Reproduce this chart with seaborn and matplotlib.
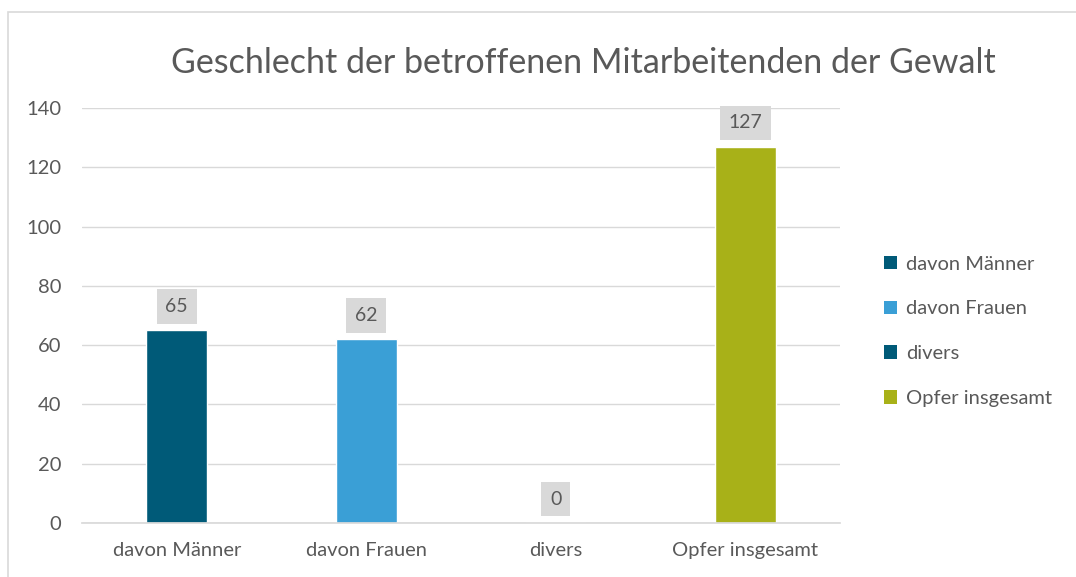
import pandas as pd
import matplotlib.pyplot as plt
import seaborn as sns
from matplotlib.patches import Rectangle, Patch

categories = ['davon Männer', 'davon Frauen', 'divers', 'Opfer insgesamt']
values = [65, 62, 0, 127]
colors = ['#005A78', '#3A9FD6', '#005A78', '#A8B118']
title = 'Geschlecht der betroffenen Mitarbeitenden der Gewalt'

sns.set_theme(style='white')
plt.rcParams['font.family'] = ['Lato', 'DejaVu Sans']
text_color = '#595959'

df = pd.DataFrame({'kategorie': categories, 'anzahl': values})

fig = plt.figure(figsize=(10.76, 5.77), dpi=100)
ax = fig.add_axes([0.0762, 0.0936, 0.7045, 0.7192])
sns.barplot(data=df, x='kategorie', y='anzahl', hue='kategorie', palette=colors,
            width=0.32, dodge=False, legend=False, ax=ax, saturation=1)

ax.set_ylim(0, 140)
ax.set_yticks(range(0, 141, 20))
ax.yaxis.grid(True, color='#D9D9D9', linewidth=1)
ax.set_axisbelow(True)
sns.despine(ax=ax, left=True, bottom=False, top=True, right=True)
ax.spines['bottom'].set_color('#D9D9D9')
ax.set(xlabel=None, ylabel=None)
ax.tick_params(axis='both', length=0, labelsize=14.5, colors=text_color)
ax.tick_params(axis='x', pad=14)
ax.tick_params(axis='y', pad=15)

for container in ax.containers:
    labels = ax.bar_label(container, padding=11, fontsize=14, color=text_color)
    for t in labels:
        t.set_bbox(dict(boxstyle='square,pad=0.45', facecolor='#D9D9D9', edgecolor='none'))

fig.text(0.542, 0.890, title, ha='center', va='center', fontsize=24.5, color=text_color)

handles = [Patch(facecolor=c, edgecolor='none') for c in colors]
leg = fig.legend(handles, categories, loc='center left', bbox_to_anchor=(0.805, 0.426),
                 frameon=False, fontsize=14.5, labelspacing=1.38, handlelength=0.65,
                 handleheight=0.65, handletextpad=0.45)
for t in leg.get_texts():
    t.set_color(text_color)

fig.patches.append(Rectangle((0.0075, -0.05), 1.05, 1.03, transform=fig.transFigure,
                             fill=False, edgecolor='#D9D9D9', linewidth=1.2))

fig.savefig('out.png', dpi=100, facecolor='white')
